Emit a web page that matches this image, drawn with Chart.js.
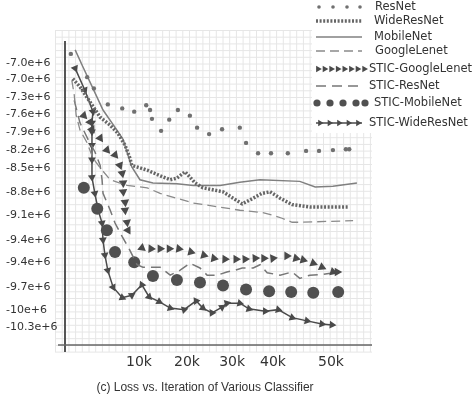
<!DOCTYPE html>
<html>
<head>
<meta charset="utf-8">
<script src="https://cdn.jsdelivr.net/npm/chart.js@4/dist/chart.umd.min.js"></script>
<style>
  body { margin: 0; background: #fff; }
  #wrap { position: relative; width: 474px; height: 400px; }
  #caption {
    position: absolute; left: 0; width: 410px; top: 380px;
    text-align: center; font: 12px "Liberation Sans", Arial, sans-serif; color: #333;
  }
</style>
</head>
<body>
<div id="wrap">
  <canvas id="lossChart" width="474" height="400"></canvas>
  <div id="caption">(c) Loss vs. Iteration of Various Classifier</div>
</div>
<script>
// iterations in thousands, loss in millions: [x, y]
const resnet = [[-4.2,-6.89],[-0.8,-7.18],[0.6,-7.32],[3.5,-7.52],[6.5,-7.57],[9.0,-7.61],[11.5,-7.53],[12.3,-7.59],
  [12.7,-7.70],[14.6,-7.85],[16.3,-7.71],[18.1,-7.59],[20.6,-7.66],[22.1,-7.81],[24.6,-7.89],[27.3,-7.83],[31.0,-7.81],
  [32.3,-8.00],[34.8,-8.13],[37.5,-8.13],[41.0,-8.13],[44.8,-8.10],[47.5,-8.10],[50.4,-8.09],[53.1,-8.08],[53.8,-8.08]];
const wideResnet = [[-3.8,-7.20],[-2.3,-7.30],[-0.2,-7.49],[1.9,-7.68],[4.0,-7.78],[5.6,-7.88],[7.1,-8.03],[8.1,-8.19],
  [8.5,-8.28],[11.7,-8.34],[14.4,-8.41],[16.5,-8.46],[17.9,-8.44],[19.6,-8.36],[21.7,-8.50],[23.3,-8.56],[25.8,-8.59],
  [27.5,-8.61],[29.6,-8.69],[31.5,-8.76],[33.8,-8.69],[35.6,-8.63],[37.3,-8.61],[39.4,-8.69],[41.9,-8.77],[45.6,-8.80],
  [49.2,-8.80],[53.5,-8.80]];
const mobileNet = [[-3.3,-6.84],[-1.7,-7.05],[0.4,-7.32],[2.5,-7.59],[5.4,-7.84],[6.7,-7.96],[7.7,-8.15],[8.5,-8.30],
  [10.2,-8.46],[12.9,-8.50],[17.9,-8.51],[21.3,-8.53],[26.9,-8.53],[31.0,-8.49],[35.2,-8.46],[43.5,-8.48],[46.7,-8.55],
  [50.4,-8.54],[55.4,-8.50]];
const googleLenet = [[-4.0,-7.22],[-3.5,-7.40],[-3.1,-7.65],[-2.3,-7.84],[-0.8,-8.00],[0.4,-8.19],[1.9,-8.31],[4.0,-8.46],
  [7.5,-8.53],[11.7,-8.56],[14.4,-8.63],[21.3,-8.75],[31.0,-8.84],[35.8,-8.87],[38.3,-8.91],[39.8,-8.94],[41.9,-8.99],
  [43.5,-8.99],[54.6,-8.97]];
const sticGoogleLenet = [[-1.5,-7.66],[-0.2,-7.74],[0.2,-7.83],[1.9,-7.94],[3.3,-8.09],[5.0,-8.15],[6.0,-8.28],[6.5,-8.38],
  [6.7,-8.50],[6.7,-8.61],[7.1,-8.74],[7.1,-8.84],[7.5,-8.99],[7.7,-9.09],[10.6,-9.31],[12.5,-9.32],[14.4,-9.32],
  [16.3,-9.32],[18.3,-9.32],[20.8,-9.36],[23.5,-9.40],[25.6,-9.44],[27.9,-9.45],[30.2,-9.45],[32.1,-9.45],[34.2,-9.44],
  [36.0,-9.44],[37.9,-9.44],[40.8,-9.41],[42.7,-9.44],[44.2,-9.46],[46.3,-9.50],[48.1,-9.55],[50.4,-9.61],[51.3,-9.61]];
const sticResnet = [[-3.5,-7.47],[-2.3,-7.75],[-0.6,-7.96],[0.8,-8.11],[1.9,-8.28],[2.3,-8.46],[2.5,-8.63],[4.0,-8.84],
  [5.0,-9.00],[6.5,-9.17],[8.1,-9.34],[9.6,-9.52],[10.8,-9.55],[14.4,-9.55],[16.5,-9.65],[18.5,-9.59],[20.6,-9.50],
  [22.7,-9.56],[24.2,-9.65],[26.3,-9.65],[28.3,-9.61],[30.0,-9.59],[31.5,-9.56],[33.8,-9.56],[35.2,-9.52],[36.7,-9.62],
  [39.4,-9.65],[41.9,-9.61],[43.5,-9.69],[45.6,-9.65],[48.3,-9.64],[51.5,-9.61]];
const sticMobileNet = [[-1.5,-8.56],[1.3,-8.82],[3.3,-9.09],[5.0,-9.36],[9.0,-9.49],[12.9,-9.66],[17.9,-9.71],[22.7,-9.74],
  [27.5,-9.78],[32.3,-9.83],[37.1,-9.85],[41.7,-9.86],[46.3,-9.87],[51.5,-9.86]];
const sticWideResnet = [[-3.3,-7.07],[-1.3,-7.34],[0.4,-7.61],[0.2,-7.75],[0.2,-7.86],[0.2,-8.03],[0.2,-8.21],[0.2,-8.43],
  [0.8,-8.63],[1.5,-8.84],[2.3,-9.00],[2.5,-9.21],[2.9,-9.40],[3.5,-9.59],[4.6,-9.80],[6.5,-9.93],[8.5,-9.90],
  [10.6,-9.77],[12.1,-9.92],[14.2,-9.98],[16.5,-10.06],[19.4,-10.08],[21.9,-9.97],[23.3,-10.06],[25.2,-10.12],
  [27.3,-10.05],[28.3,-10.00],[31.0,-10.00],[32.9,-10.07],[36.3,-10.10],[39.0,-10.08],[41.9,-10.18],[45.0,-10.22],
  [48.1,-10.26],[50.2,-10.27]];

// tick labels as printed on the original figure
const yTickValues = [-7.0, -7.21, -7.43, -7.64, -7.86, -8.09, -8.31, -8.62, -8.90, -9.21, -9.49, -9.80, -10.09, -10.30];
const yTickLabels = ['-7.0e+6','-7.0e+6','-7.3e+6','-7.6e+6','-7.9e+6','-8.2e+6','-8.5e+6','-8.8e+6','-9.1e+6',
  '-9.4e+6','-9.4e+6','-9.7e+6','-10e+6','-10.3e+6'];
const xTickValues = [10, 20, 29.4, 37.9, 50];
const xTickLabels = ['10k', '20k', '30k', '40k', '50k'];

const toXY = arr => arr.map(p => ({ x: p[0], y: p[1] }));

// point triangles along the direction of travel
function heading(ctx) {
  if (ctx.type !== 'data') return 90;
  const d = ctx.dataset.data, i = ctx.dataIndex, n = d.length;
  const a = d[Math.max(i - 1, 0)], b = d[Math.min(i + 1, n - 1)];
  const sx = ctx.chart.scales.x, sy = ctx.chart.scales.y;
  const dx = sx.getPixelForValue(b.x) - sx.getPixelForValue(a.x);
  const dy = sy.getPixelForValue(b.y) - sy.getPixelForValue(a.y);
  return Math.atan2(dy, dx) * 180 / Math.PI + 90;
}

function triangle(ctx, x, y, r, deg) {
  ctx.save();
  ctx.translate(x, y);
  ctx.rotate(deg * Math.PI / 180);
  ctx.beginPath();
  ctx.moveTo(0, -r);
  ctx.lineTo(r * 0.87, r * 0.5);
  ctx.lineTo(-r * 0.87, r * 0.5);
  ctx.closePath();
  ctx.fill();
  ctx.restore();
}

// fine graph-paper grid behind the plot
const paperGrid = {
  id: 'paperGrid',
  beforeDraw(chart) {
    const ctx = chart.ctx;
    ctx.save();
    ctx.strokeStyle = '#e6e6e6';
    ctx.lineWidth = 1;
    ctx.beginPath();
    for (let x = 55.5; x <= 373; x += 6.7) { ctx.moveTo(x, 30); ctx.lineTo(x, 352); }
    for (let y = 30.5; y <= 353; y += 6.7) { ctx.moveTo(55, y); ctx.lineTo(372, y); }
    ctx.stroke();
    ctx.restore();
  }
};

const axisLines = {
  id: 'axisLines',
  beforeDatasetsDraw(chart) {
    const { ctx, chartArea: a } = chart;
    ctx.save();
    ctx.strokeStyle = '#555';
    ctx.lineWidth = 2;
    ctx.beginPath();
    ctx.moveTo(a.left, a.top);
    ctx.lineTo(a.left, a.bottom + 7);
    ctx.stroke();
    ctx.strokeStyle = '#666';
    ctx.lineWidth = 1.5;
    ctx.beginPath();
    ctx.moveTo(a.left - 7, a.bottom);
    ctx.lineTo(a.right, a.bottom);
    ctx.stroke();
    ctx.restore();
  }
};

const sideLegend = {
  id: 'sideLegend',
  afterDraw(chart) {
    const ctx = chart.ctx;
    const rows = [7, 21, 37, 51, 69, 86, 103, 123];
    const textX = [375, 374, 374, 375, 369, 369, 374, 369];
    ctx.save();
    ctx.fillStyle = '#fff';
    ctx.fillRect(312, 0, 162, 133);
    chart.data.datasets.forEach((ds, i) => {
      const y = rows[i];
      const c = ds.borderColor;
      ctx.fillStyle = c;
      ctx.strokeStyle = c;
      if (ds.showLine !== false) {
        ctx.setLineDash(ds.borderDash || []);
        ctx.lineWidth = ds.borderWidth;
        ctx.beginPath();
        ctx.moveTo(316, y);
        ctx.lineTo(362, y);
        ctx.stroke();
        ctx.setLineDash([]);
      }
      if (ds.label === 'ResNet') {
        [319, 333, 347, 360].forEach(x => { ctx.beginPath(); ctx.arc(x, y, 1.8, 0, Math.PI * 2); ctx.fill(); });
      } else if (ds.label === 'STIC-GoogleLenet') {
        for (let k = 0; k < 8; k++) triangle(ctx, 318 + k * 6.6, y, 3.8, 90);
      } else if (ds.label === 'STIC-MobileNet') {
        [317, 330, 343, 356, 365].forEach(x => { ctx.beginPath(); ctx.arc(x, y, 3.6, 0, Math.PI * 2); ctx.fill(); });
      } else if (ds.label === 'STIC-WideResNet') {
        for (let k = 0; k < 5; k++) triangle(ctx, 320 + k * 9.5, y, 3.6, 90);
      }
      ctx.fillStyle = '#333';
      ctx.font = '11.5px "DejaVu Sans", sans-serif';
      ctx.textBaseline = 'middle';
      ctx.textAlign = 'left';
      ctx.fillText(ds.label, textX[i], y);
    });
    ctx.restore();
  }
};

const tickFont = { family: '"DejaVu Sans", sans-serif' };

new Chart(document.getElementById('lossChart').getContext('2d'), {
  type: 'line',
  data: {
    datasets: [
      { label: 'ResNet', data: toXY(resnet), showLine: false, borderColor: '#707070',
        backgroundColor: '#707070', pointRadius: 2.2, pointBorderWidth: 0 },
      { label: 'WideResNet', data: toXY(wideResnet), borderColor: '#666', borderWidth: 3.5,
        borderDash: [2, 1.6], pointRadius: 0 },
      { label: 'MobileNet', data: toXY(mobileNet), borderColor: '#808080', borderWidth: 1.5, pointRadius: 0 },
      { label: 'GoogleLenet', data: toXY(googleLenet), borderColor: '#8a8a8a', borderWidth: 1.3,
        borderDash: [9, 5], pointRadius: 0 },
      { label: 'STIC-GoogleLenet', data: toXY(sticGoogleLenet), showLine: false, borderColor: '#4a4a4a',
        backgroundColor: '#4a4a4a', pointStyle: 'triangle', pointRadius: 5, pointBorderWidth: 0, pointRotation: heading },
      { label: 'STIC-ResNet', data: toXY(sticResnet), borderColor: '#777', borderWidth: 1.5,
        borderDash: [10, 6], pointRadius: 0 },
      { label: 'STIC-MobileNet', data: toXY(sticMobileNet), showLine: false, borderColor: '#505050',
        backgroundColor: '#505050', pointRadius: 6, pointBorderWidth: 0 },
      { label: 'STIC-WideResNet', data: toXY(sticWideResnet), borderColor: '#4a4a4a', borderWidth: 1.5,
        backgroundColor: '#4a4a4a', pointStyle: 'triangle', pointRadius: 4.5, pointBorderWidth: 0, pointRotation: heading }
    ]
  },
  options: {
    responsive: false,
    animation: false,
    layout: { padding: { left: 6, right: 102, top: 41, bottom: 25 } },
    plugins: { legend: { display: false }, tooltip: { enabled: false } },
    scales: {
      x: {
        type: 'linear', min: -5.42, max: 58.54,
        grid: { display: false, drawTicks: false }, border: { display: false },
        afterBuildTicks: s => { s.ticks = xTickValues.map(v => ({ value: v })); },
        afterFit: s => { s.height = 30; },
        ticks: { autoSkip: false, maxRotation: 0, padding: 9, color: '#333',
          font: { ...tickFont, size: 14 }, callback: (v, i) => xTickLabels[i] }
      },
      y: {
        type: 'linear', min: -10.521, max: -6.729,
        grid: { display: false, drawTicks: false }, border: { display: false },
        afterBuildTicks: s => { s.ticks = yTickValues.map(v => ({ value: v })); },
        afterFit: s => { s.width = 59; },
        ticks: { autoSkip: false, crossAlign: 'far', color: '#333',
          font: { ...tickFont, size: 11 }, callback: (v, i) => yTickLabels[i] }
      }
    }
  },
  plugins: [paperGrid, axisLines, sideLegend]
});
</script>
</body>
</html>
